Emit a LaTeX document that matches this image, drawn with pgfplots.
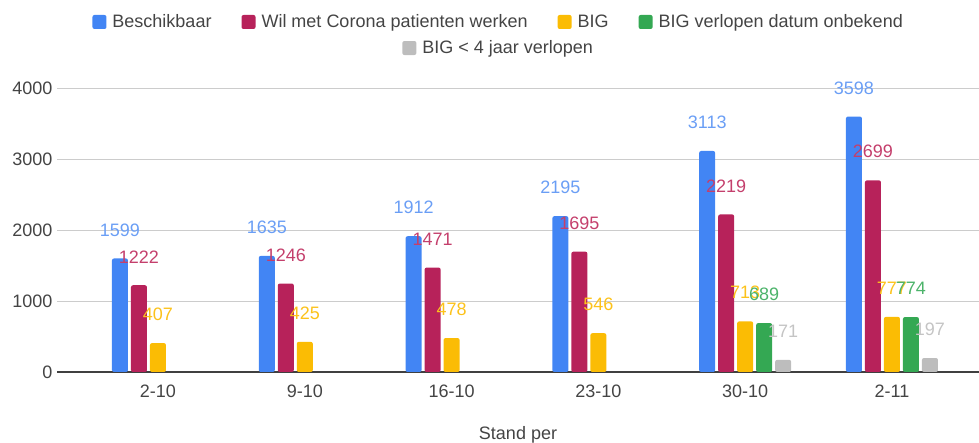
\documentclass[border=0pt]{standalone}
\usepackage{pgfplots}
\pgfplotsset{compat=1.18}
\usepackage{fontspec}
\setmainfont{Liberation Sans}
\definecolor{cblue}{HTML}{4285F4}
\definecolor{cred}{HTML}{B7225A}
\definecolor{cyel}{HTML}{FBBC04}
\definecolor{cgrn}{HTML}{34A853}
\definecolor{cgry}{HTML}{BDBDBD}
\definecolor{lblue}{HTML}{6A9EF5}
\definecolor{lred}{HTML}{C43F6C}
\definecolor{lyel}{HTML}{FCC21B}
\definecolor{lgrn}{HTML}{4CB36A}
\definecolor{lgry}{HTML}{C4C4C4}
\definecolor{txt}{HTML}{444444}
\pgfplotsset{
  mylegend/.style={legend image code/.code={\path[##1, rounded corners=2pt] (0pt,-7pt) rectangle (14pt,7pt);}},
}
\begin{document}
\begin{tikzpicture}
\useasboundingbox (0,0) rectangle (979pt,443pt);
\begin{axis}[
  at={(57pt,71pt)}, anchor=south west,
  scale only axis, width=922pt, height=284pt,
  ybar=3pt, bar width=16pt,
  xmin=-0.688, xmax=5.593, ymin=0, ymax=4000,
  clip=false,
  xtick={0,1,2,3,4,5},
  xticklabels={2-10,9-10,16-10,23-10,30-10,2-11},
  ytick={0,1000,2000,3000,4000},
  ymajorgrids, grid style={draw=black!20, line width=0.8pt},
  major tick length=0pt,
  axis x line*=bottom, axis y line*=left,
  y axis line style={draw=none},
  x axis line style={draw=black!75, line width=1.6pt, -},
  /pgf/number format/assume math mode=true,
  /pgf/number format/1000 sep={},
  ticklabel style={font=\fontsize{18}{21}\selectfont, text=txt},
  yticklabel style={anchor=east, xshift=-1pt},
  xticklabel style={anchor=north, yshift=-9pt},
  xlabel={Stand per}, xlabel style={font=\fontsize{18}{21}\selectfont, text=txt, at={(0.5,0)}, anchor=center, yshift=-63pt},
  nodes near coords={\pgfmathprintnumber[fixed,precision=0]{\pgfplotspointmeta}},
  every node near coord/.append style={font=\fontsize{18}{21}\selectfont, anchor=south, inner sep=0pt, yshift=22pt},
  every axis plot post/.append style={mylegend},
  legend columns=4,
  legend style={at={(0.479,1.2324)}, anchor=center, draw=none, fill=none,
    font=\fontsize{18}{21}\selectfont, text=txt,
    /tikz/every even column/.append style={column sep=28pt},
    /tikz/every odd column/.append style={column sep=4pt}},
]
\addplot[fill=cblue, draw=none, rounded corners=2pt, every node near coord/.append style={text=lblue}]
  coordinates {(0,1599) (1,1635) (2,1912) (3,2195) (4,3113) (5,3598)};
\addplot[fill=cred, draw=none, rounded corners=2pt, every node near coord/.append style={text=lred}]
  coordinates {(0,1222) (1,1246) (2,1471) (3,1695) (4,2219) (5,2699)};
\addplot[fill=cyel, draw=none, rounded corners=2pt, every node near coord/.append style={text=lyel}]
  coordinates {(0,407) (1,425) (2,478) (3,546) (4,713) (5,777)};
\addplot[fill=cgrn, draw=none, rounded corners=2pt, every node near coord/.append style={text=lgrn}]
  coordinates {(4,689) (5,774)};
\addplot[fill=cgry, draw=none, rounded corners=2pt, every node near coord/.append style={text=lgry}]
  coordinates {(4,171) (5,197)};
\legend{Beschikbaar, Wil met Corona patienten werken, BIG, BIG verlopen datum onbekend}
\end{axis}
\begin{axis}[
  at={(57pt,71pt)}, anchor=south west,
  scale only axis, width=922pt, height=284pt,
  xmin=-0.688, xmax=5.593, ymin=0, ymax=4000,
  hide axis,
  legend style={at={(0.479,1.1408)}, anchor=center, draw=none, fill=none,
    font=\fontsize{18}{21}\selectfont, text=txt,
    /tikz/every odd column/.append style={column sep=4pt}},
]
\addlegendimage{fill=cgry, draw=none, mylegend}
\addlegendentry{BIG < 4 jaar verlopen}
\end{axis}
\end{tikzpicture}
\end{document}
